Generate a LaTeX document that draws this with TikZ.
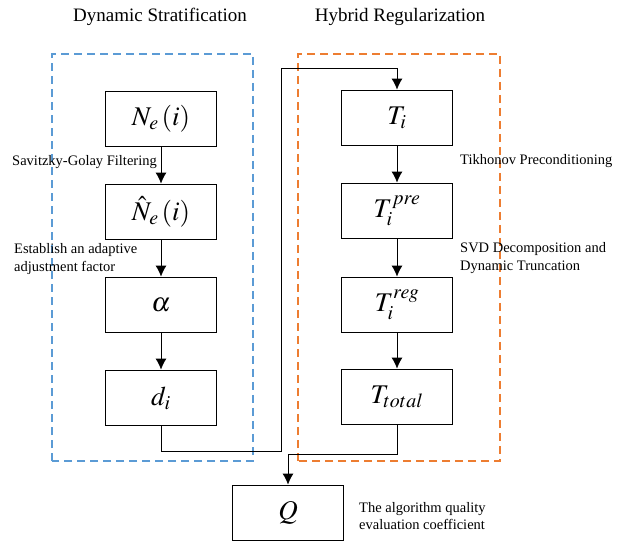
\documentclass[tikz,border=0pt]{standalone}
\usepackage{mathptmx}
\usepackage{fontspec}
\setmainfont{Liberation Serif}
\usetikzlibrary{arrows.meta}
\definecolor{stratblue}{RGB}{91,155,213}
\definecolor{regorange}{RGB}{237,125,49}

\begin{document}
\begin{tikzpicture}[x=1pt,y=1pt,
    block/.style={draw,line width=1.8pt,minimum width=111pt,minimum height=55pt,inner sep=0pt,font=\fontsize{27}{30}\selectfont},
    note/.style={inner sep=0pt,align=left,font=\fontsize{14.5}{17.5}\selectfont},
    title/.style={inner sep=0pt,font=\fontsize{19}{23}\selectfont},
    frame/.style={line width=1.6pt,dash pattern=on 8pt off 5pt},
    link/.style={line width=0.9pt,-{Latex[length=11pt,width=11pt]}}]
    \useasboundingbox (0,0) rectangle (617,551);

    \draw[frame,stratblue] (52,90) rectangle (253,497);
    \draw[frame,regorange] (298,90) rectangle (500,497);
    \node[title] (dyn) at (160,534) {Dynamic Stratification};
    \node[title] (hyb) at (400,534) {Hybrid Regularization};

    \node[block] (ne) at (161,432) {$N_e\left(i\right)$};
    \node[block] (nh) at (161,339) {$\hat{N}_e\left(i\right)$};
    \node[block] (al) at (161,246) {$\alpha$};
    \node[block] (di) at (161,153) {$d_i$};

    \node[block] (ti) at (397,433) {$T_i$};
    \node[block] (tp) at (397,340) {$T_i^{pre}$};
    \node[block] (tr) at (397,246) {$T_i^{reg}$};
    \node[block] (tt) at (397,154) {$T_{total}$};

    \node[block] (q) at (288,38) {$Q$};

    \node[note,anchor=east] (sg) at (157,389) {Savitzky-Golay Filtering};
    \node[note,anchor=west] (aa) at (14,292) {Establish an adaptive\\adjustment factor};
    \node[note,anchor=west] (tk) at (460,390) {Tikhonov Preconditioning};
    \node[note,anchor=west] (svd) at (460,293) {SVD Decomposition and\\Dynamic Truncation};
    \node[note,anchor=west] (qe) at (359,35) {The algorithm quality\\evaluation coefficient};

    \coordinate (turn) at (281,483);

    \draw[link] (ne) -- (nh);
    \draw[link] (nh) -- (al);
    \draw[link] (al) -- (di);
    \draw[link] (ti) -- (tp);
    \draw[link] (tp) -- (tr);
    \draw[link] (tr) -- (tt);
    \draw[link] (di.south) -- ++(0,-25) -| (turn) -| (ti.north);
    \draw[link] (tt.south) -- ++(0,-29) -| (q.north);
\end{tikzpicture}
\end{document}
